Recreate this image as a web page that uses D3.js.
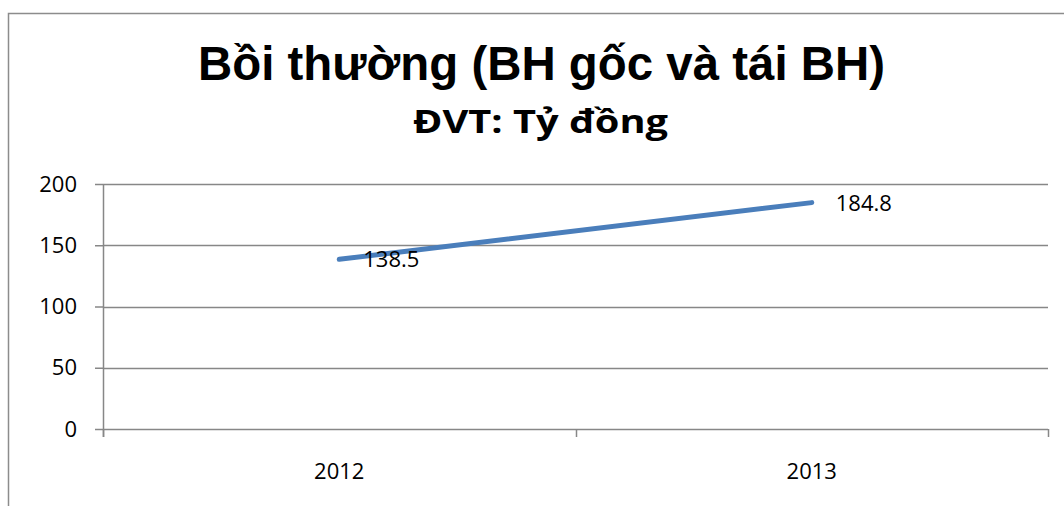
<!DOCTYPE html>
<html>
<head>
<meta charset="utf-8">
<script src="https://cdn.jsdelivr.net/npm/d3@7"></script>
<style>
  body { margin: 0; background: #fff; }
  svg { display: block; }
</style>
</head>
<body>
<div id="viz"></div>
<script>
const width = 1064;
const height = 506;
const plot = {left: 103, right: 1048, top: 184, bottom: 429};

// Data
const years = ['2012', '2013'];
const claims = [138.5, 184.8];
const yTicks = [0, 50, 100, 150, 200];
const titleText = 'Bồi thường (BH gốc và tái BH)';
const subtitleText = 'ĐVT: Tỷ đồng';

const gridColor = '#878787';
const lineColor = '#4a7ebb';
const bodyFont = '"Open Sans", sans-serif';

const svg = d3.select('#viz')
  .append('svg')
  .attr('width', width)
  .attr('height', height)
  .attr('viewBox', [0, 0, width, height]);

// Chart border (runs off the right and bottom edge)
svg.append('rect')
  .attr('x', 8.5)
  .attr('y', 13.5)
  .attr('width', 1200)
  .attr('height', 700)
  .attr('fill', 'none')
  .attr('stroke', '#8c8c8c')
  .attr('stroke-width', 1.5);

// Titles
svg.append('text')
  .attr('x', 541.5)
  .attr('y', 80)
  .attr('text-anchor', 'middle')
  .attr('font-family', '"Liberation Sans", Arial, sans-serif')
  .attr('font-weight', 'bold')
  .attr('font-size', 47.5)
  .attr('textLength', 687)
  .attr('lengthAdjust', 'spacingAndGlyphs')
  .text(titleText);

svg.append('text')
  .attr('x', 540.5)
  .attr('y', 133)
  .attr('text-anchor', 'middle')
  .attr('font-family', bodyFont)
  .attr('font-weight', 'bold')
  .attr('font-size', 32)
  .attr('textLength', 255)
  .attr('lengthAdjust', 'spacingAndGlyphs')
  .text(subtitleText);

// Scales
const xScale = d3.scaleBand()
  .domain(years)
  .range([plot.left, plot.right]);

const yScale = d3.scaleLinear()
  .domain([0, 200])
  .range([plot.bottom, plot.top]);

// Y axis with gridlines
const yAxis = svg.append('g')
  .attr('transform', `translate(${plot.left}, 0)`)
  .call(d3.axisLeft(yScale)
    .tickValues(yTicks)
    .tickSize(8)
    .tickPadding(18));

yAxis.select('.domain').remove();
yAxis.selectAll('.tick line').attr('stroke', gridColor).attr('stroke-width', 1.5);
yAxis.selectAll('.tick text')
  .attr('font-family', bodyFont)
  .attr('font-size', 22)
  .attr('fill', '#000');

svg.append('g')
  .selectAll('line')
  .data(yTicks)
  .join('line')
    .attr('x1', plot.left)
    .attr('x2', plot.right)
    .attr('y1', d => Math.round(yScale(d)) + 0.5)
    .attr('y2', d => Math.round(yScale(d)) + 0.5)
    .attr('stroke', gridColor)
    .attr('stroke-width', 1.5);

// Vertical axis line
svg.append('line')
  .attr('x1', plot.left + 0.5)
  .attr('x2', plot.left + 0.5)
  .attr('y1', plot.top)
  .attr('y2', plot.bottom + 8)
  .attr('stroke', gridColor)
  .attr('stroke-width', 1.5);

// X axis: labels centred in bands, ticks at band edges
const xAxis = svg.append('g')
  .attr('transform', `translate(0, ${plot.bottom})`)
  .call(d3.axisBottom(xScale).tickSize(0).tickPadding(34));

xAxis.select('.domain').remove();
xAxis.selectAll('.tick text')
  .attr('font-family', bodyFont)
  .attr('font-size', 22)
  .attr('fill', '#000');

const edges = years.map(d => xScale(d)).concat([xScale(years[years.length - 1]) + xScale.bandwidth()]);

svg.append('g')
  .selectAll('line')
  .data(edges)
  .join('line')
    .attr('x1', d => Math.round(d) + 0.5)
    .attr('x2', d => Math.round(d) + 0.5)
    .attr('y1', plot.bottom)
    .attr('y2', plot.bottom + 8)
    .attr('stroke', gridColor)
    .attr('stroke-width', 1.5);

// Line series
const points = years.map((d, i) => ({year: d, value: claims[i]}));

const line = d3.line()
  .x(d => xScale(d.year) + xScale.bandwidth() / 2)
  .y(d => yScale(d.value));

svg.append('path')
  .attr('d', line(points))
  .attr('fill', 'none')
  .attr('stroke', lineColor)
  .attr('stroke-width', 5)
  .attr('stroke-linecap', 'round');

// Data labels (to the right of each point)
svg.append('g')
  .selectAll('text')
  .data(points)
  .join('text')
    .attr('x', d => xScale(d.year) + xScale.bandwidth() / 2 + 24)
    .attr('y', d => yScale(d.value))
    .attr('dy', '0.36em')
    .attr('font-family', bodyFont)
    .attr('font-size', 22)
    .attr('fill', '#000')
    .text(d => d.value);
</script>
</body>
</html>
